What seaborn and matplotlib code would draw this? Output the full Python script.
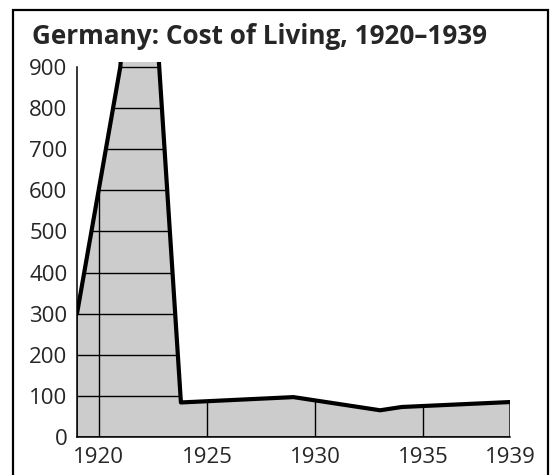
import numpy as np
import matplotlib
matplotlib.use("Agg")
import matplotlib.pyplot as plt
import matplotlib.patches as patches
import seaborn as sns

# cost of living index (the 1922-23 peak runs off the top)
years = [1919, 1920, 1921, 1922, 1923.8, 1929, 1933, 1934, 1939]
values = [300, 600, 900, 1550, 84, 97, 65, 73, 85]
y_ticks = [0, 100, 200, 300, 400, 500, 600, 700, 800, 900]
x_ticks = [1920, 1925, 1930, 1935, 1939]
x_grid = [1920, 1925, 1930, 1935]
title = "Germany: Cost of Living, 1920\u20131939"

sns.set_style("white")
plt.rcParams['font.family'] = ['Open Sans', 'DejaVu Sans']

fig = plt.figure(figsize=(5.52, 4.75), dpi=100)
ax = fig.add_axes([77 / 552, 38 / 475, 433 / 552, 375 / 475])

fill = ax.fill_between(years, values, 0, facecolor='#cccccc', edgecolor='black', linewidth=1.0, zorder=1)
poly_path = fill.get_paths()[0]

# grid lines only inside the filled area
hl = ax.hlines(y_ticks[1:], years[0], years[-1], colors='black', linewidth=1.0, zorder=2)
vl = ax.vlines(x_grid, 0, 2000, colors='black', linewidth=1.0, zorder=2)
hl.set_clip_path(poly_path, ax.transData)
vl.set_clip_path(poly_path, ax.transData)

sns.lineplot(x=years, y=values, ax=ax, color='black', linewidth=3.0, sort=False, zorder=3)

ax.set_xlim(1919, 1939)
ax.set_ylim(0, 912)
ax.set_xticks(x_ticks)
ax.set_yticks(y_ticks)
ax.set_xlabel("")
ax.set_ylabel("")

for side in ['top', 'right']:
    ax.spines[side].set_visible(False)
ax.spines['left'].set_bounds(0, 900)
ax.spines['left'].set_linewidth(1.1)
ax.spines['bottom'].set_linewidth(1.1)
ax.spines['left'].set_color('black')
ax.spines['bottom'].set_color('black')
ax.patch.set_alpha(0)

ax.tick_params(axis='y', direction='in', length=11.5, width=1.0, color='black', pad=7, labelsize=16)
ax.tick_params(axis='x', length=0, pad=7, labelsize=16)

fig.text(260 / 552, 431.5 / 475, title, ha='center', va='baseline', fontsize=18.8, fontweight='bold')

frame = patches.Rectangle((13.3 / 552, -0.02), 535 / 552, 465 / 475 + 0.02, transform=fig.transFigure,
                          fill=False, edgecolor='black', linewidth=1.6, clip_on=False)
fig.patches.append(frame)

fig.savefig("out.png", dpi=100)
